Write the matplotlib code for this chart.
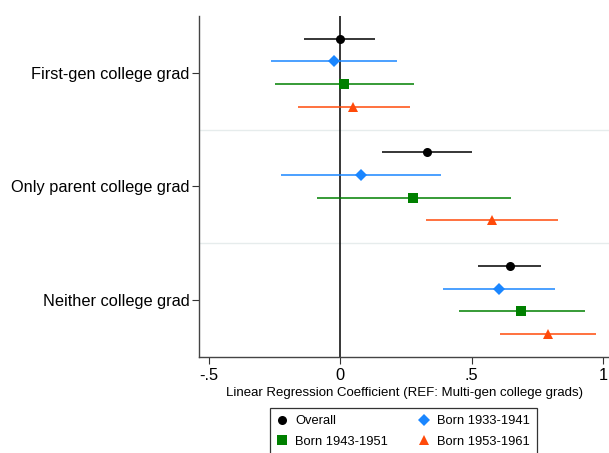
"""Coefficient plot: college-grad parent/child groups by birth cohort."""

import matplotlib

matplotlib.use("Agg")
import matplotlib.pyplot as plt
from matplotlib.lines import Line2D
import numpy as np

plt.rcParams["font.family"] = ["Liberation Sans", "DejaVu Sans"]

groups = ["First-gen college grad", "Only parent college grad", "Neither college grad"]
series = ["Overall", "Born 1933-1941", "Born 1943-1951", "Born 1953-1961"]

# point estimate, lower CI, upper CI per group (rows) for each series
overall_est = [0.0, 0.33, 0.645]
overall_lo = [-0.138, 0.16, 0.525]
overall_hi = [0.131, 0.50, 0.764]

b33_est = [-0.025, 0.079, 0.604]
b33_lo = [-0.265, -0.226, 0.392]
b33_hi = [0.215, 0.383, 0.816]

b43_est = [0.015, 0.278, 0.689]
b43_lo = [-0.25, -0.09, 0.453]
b43_hi = [0.279, 0.649, 0.930]

b53_est = [0.05, 0.576, 0.791]
b53_lo = [-0.162, 0.325, 0.609]
b53_hi = [0.264, 0.828, 0.973]

xticks = [-0.5, 0, 0.5, 1]
xticklabels = ["-.5", "0", ".5", "1"]

styles = [
    ("Overall", overall_est, overall_lo, overall_hi, "black", "o", 6.5),
    ("Born 1933-1941", b33_est, b33_lo, b33_hi, "#1a86ff", "D", 6.5),
    ("Born 1943-1951", b43_est, b43_lo, b43_hi, "#008000", "s", 6.5),
    ("Born 1953-1961", b53_est, b53_lo, b53_hi, "#ff4a0a", "^", 7.5),
]
offsets = [-0.3, -0.1, 0.1, 0.3]

fig = plt.figure(figsize=(6.09, 4.53), dpi=100)
ax = fig.add_axes([199 / 609, 1 - 356.7 / 453, 410 / 609, (356.7 - 16) / 453])

ypos = np.arange(len(groups))
for sep in [0.5, 1.5]:
    ax.axhline(sep, color="#e6ecec", lw=1.0, zorder=0)
ax.axvline(0, color="black", lw=1.1, zorder=1)

for (name, est, lo, hi, color, marker, ms), off in zip(styles, offsets):
    est = np.asarray(est)
    err = [est - np.asarray(lo), np.asarray(hi) - est]
    ax.errorbar(
        est,
        ypos + off,
        xerr=err,
        fmt=marker,
        color=color,
        ecolor=color,
        elinewidth=1.1,
        capsize=0,
        markersize=ms,
        markeredgewidth=0,
        zorder=3,
    )

ax.set_xlim(-0.538, 1.023)
ax.set_ylim(2.5, -0.5)
ax.set_yticks(ypos)
ax.set_yticklabels(groups, fontsize=11.8)
ax.set_xticks(xticks)
ax.set_xticklabels(xticklabels, fontsize=11.8)
ax.tick_params(axis="y", length=5, width=0.8, pad=2, color="#333333")
ax.tick_params(axis="x", length=5, width=0.8, pad=3, color="#333333")
ax.set_xlabel("Linear Regression Coefficient (REF: Multi-gen college grads)", fontsize=9.5, labelpad=3)
for side in ["top", "right"]:
    ax.spines[side].set_visible(False)
for side in ["left", "bottom"]:
    ax.spines[side].set_color("#444444")
    ax.spines[side].set_linewidth(1.0)

handles = {
    name: Line2D([], [], linestyle="none", marker=marker, color=color, markersize=ms, markeredgewidth=0)
    for name, _, _, _, color, marker, ms in styles
}
order = ["Overall", "Born 1943-1951", "Born 1933-1941", "Born 1953-1961"]
leg = fig.legend(
    [handles[k] for k in order],
    order,
    ncol=2,
    loc="upper left",
    bbox_to_anchor=(270 / 609, 1 - 408.3 / 453),
    borderaxespad=0,
    frameon=True,
    fancybox=False,
    edgecolor="black",
    fontsize=9.3,
    handlelength=0.8,
    handletextpad=0.6,
    columnspacing=2.4,
    borderpad=0.55,
    labelspacing=0.65,
)
leg.get_frame().set_linewidth(0.9)

fig.savefig("out.png", dpi=100)
